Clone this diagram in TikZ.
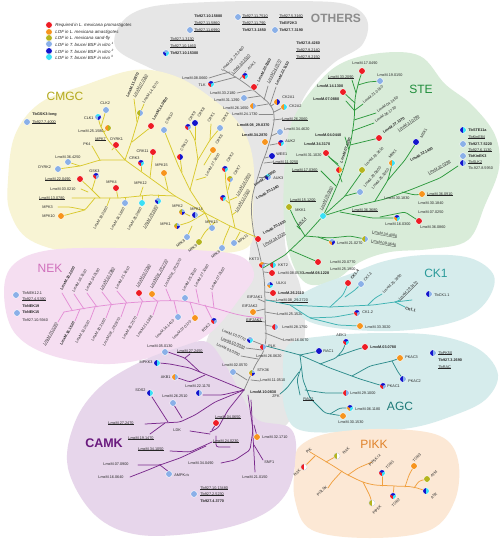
\documentclass[tikz,border=0pt]{standalone}
\usepackage{fontspec}
\setmainfont{Liberation Sans}
\definecolor{cR}{HTML}{EE1C25}
\definecolor{cO}{HTML}{F7941D}
\definecolor{cV}{HTML}{B5B51E}
\definecolor{cL}{HTML}{8AB0E8}
\definecolor{cD}{HTML}{1414CC}
\definecolor{cC}{HTML}{3AE0F5}
\definecolor{cW}{HTML}{FFFFFF}
\definecolor{bgGray}{HTML}{E6E6E6}
\definecolor{bgYel}{HTML}{F8F4D4}
\definecolor{bgPink}{HTML}{F5DEF1}
\definecolor{bgGreen}{HTML}{D9ECD9}
\definecolor{bgTeal}{HTML}{D6ECEC}
\definecolor{bgPurp}{HTML}{E7D6EB}
\definecolor{bgPeach}{HTML}{FCE8D5}
\definecolor{lnGray}{HTML}{8A8A8A}
\definecolor{lnYel}{HTML}{D9C92E}
\definecolor{lnPink}{HTML}{E48FD6}
\definecolor{lnGreen}{HTML}{2E9A3E}
\definecolor{lnTeal}{HTML}{3FB3B3}
\definecolor{lnAgc}{HTML}{2E8C8C}
\definecolor{lnPurp}{HTML}{7A2A8C}
\definecolor{lnPeach}{HTML}{F0A040}
\definecolor{tGray}{HTML}{8C8C8C}
\definecolor{tYel}{HTML}{B3A91C}
\definecolor{tPink}{HTML}{D070BC}
\definecolor{tGreen}{HTML}{1E8C3A}
\definecolor{tTeal}{HTML}{2A9A9A}
\definecolor{tAgc}{HTML}{1E7A78}
\definecolor{tPurp}{HTML}{6A1A7E}
\definecolor{tPeach}{HTML}{E0822A}
\tikzset{
  lab/.style={font=\fontsize{3.8}{4.2}\selectfont, inner sep=0.2pt, anchor=west, text=black!85},
  leg/.style={font=\fontsize{4.4}{5}\selectfont\itshape, inner sep=0.2pt, anchor=west, text=black!85},
  ttl/.style={font=\fontsize{12}{12}\selectfont, inner sep=0pt},
  br/.style={line width=0.75pt, rounded corners=2.5pt, line cap=round, line join=round},
  gry/.style={br, draw=lnGray},
  yel/.style={br, draw=lnYel},
  pnk/.style={br, draw=lnPink},
  grn/.style={br, draw=lnGreen},
  tea/.style={br, draw=lnTeal},
  agc/.style={br, draw=lnAgc},
  pur/.style={br, draw=lnPurp},
  pea/.style={br, draw=lnPeach},
}
\newcounter{lbc}
\newcommand\T[3][]{\stepcounter{lbc}\edef\lbname{L\the\value{lbc}}\node[lab,#1] (\lbname) at (#2) {#3};}
\newcommand\bfx[1]{\textbf{#1}}
\newcommand\uln[1]{\setbox0\hbox{#1}\rlap{\rule[-0.45pt]{\wd0}{0.18pt}}\box0}
\newcommand\kpie[2]{%
  \foreach \kc [count=\ki] in {#2}{\xdef\pien{\ki}}%
  \foreach \kc [count=\ki] in {#2}{%
    \pgfmathsetmacro\kpa{90+360*(\ki-1)/\pien}%
    \pgfmathsetmacro\kpb{90+360*\ki/\pien}%
    \fill[\kc] (#1) -- ++(\kpa:3.2) arc[start angle=\kpa, end angle=\kpb, radius=3.2] -- cycle;}%
  \draw[white, line width=0.35pt] (#1) circle[radius=3.35];}
\begin{document}
\begin{tikzpicture}[x=1pt,y=-1pt]
\useasboundingbox (0,0) rectangle (500,542);
\fill[white] (0,0) rectangle (500,542);
% ---------- blobs
\fill[bgGray] plot[smooth cycle, tension=0.6] coordinates {(116,48) (122,22) (150,7) (210,2) (290,1) (345,4) (367,20) (362,45) (335,62) (312,85) (298,110) (290,140) (285,200) (286,250) (300,285) (305,330) (298,380) (290,420) (262,440) (240,430) (222,395) (205,350) (225,305) (248,265) (250,200) (248,150) (225,110) (190,85) (150,68)};
\fill[bgYel] plot[smooth cycle, tension=0.6] coordinates {(8,180) (15,135) (40,103) (85,85) (135,70) (175,76) (210,97) (240,125) (253,160) (253,210) (250,245) (215,254) (150,256) (80,254) (30,240) (10,212)};
\fill[bgPink] plot[smooth cycle, tension=0.6] coordinates {(4,292) (14,264) (50,250) (120,248) (195,250) (240,256) (254,275) (240,298) (210,333) (170,352) (110,364) (50,355) (14,332)};
\fill[bgGreen] plot[smooth cycle, tension=0.6] coordinates {(292,122) (312,90) (340,64) (380,53) (420,56) (445,84) (472,105) (495,135) (499,168) (485,205) (468,240) (430,249) (390,252) (360,262) (335,280) (308,284) (292,262) (284,220) (285,160)};
\fill[bgTeal] plot[smooth cycle, tension=0.6] coordinates {(292,303) (315,287) (350,274) (385,261) (425,255) (470,258) (494,276) (486,302) (460,320) (410,330) (355,330) (310,322)};
\fill[bgTeal] plot[smooth cycle, tension=0.6] coordinates {(288,345) (325,336) (385,333) (440,336) (480,350) (498,375) (485,400) (452,416) (410,428) (350,432) (300,430) (285,410) (283,378)};
\fill[bgPurp] plot[smooth cycle, tension=0.6] coordinates {(68,468) (75,422) (100,387) (140,362) (180,347) (207,342) (226,366) (243,398) (258,420) (290,428) (296,455) (287,492) (260,516) (210,531) (140,535) (95,515)};
\fill[bgPeach] plot[smooth cycle, tension=0.6] coordinates {(300,446) (330,433) (390,429) (440,436) (458,460) (455,500) (430,530) (370,538) (312,530) (295,500) (295,465)};
% ---------- titles
\node[ttl, font=\fontsize{12}{12}\selectfont\bfseries, text=tGray] (tOth) at (336,18) {OTHERS};
\node[ttl, text=tYel] (tCmgc) at (65,96) {CMGC};
\node[ttl, text=tPink] (tNek) at (50,268) {NEK};
\node[ttl, text=tGreen] (tSte) at (421,89) {STE};
\node[ttl, text=tTeal] (tCk1) at (436,273) {CK1};
\node[ttl, text=tAgc] (tAgc) at (400,406) {AGC};
\node[ttl, font=\fontsize{12.5}{12.5}\selectfont\bfseries, text=tPurp] (tCamk) at (104,443) {CAMK};
\node[ttl, text=tPeach] (tPikk) at (374,444) {PIKK};
% ---------- legend
\kpie{49,25}{cR}\node[leg] (g1) at (55,25) {Required in L. mexicana promastigotes};
\kpie{49,32}{cO}\node[leg] (g2) at (55,32) {LOF in L. mexicana amastigotes};
\kpie{49,38}{cV}\node[leg] (g3) at (55,38) {LOF in L. mexicana sand-fly};
\kpie{49,44}{cL}\node[leg] (g4) at (55,44) {LOF in T. brucei BSF in vitro \textsuperscript{1}};
\kpie{49,51}{cD}\node[leg] (g5) at (55,51) {LOF in T. brucei BSF in vitro \textsuperscript{2}};
\kpie{49,57}{cC}\node[leg] (g6) at (55,57) {LOF in T. brucei BSF in vivo \textsuperscript{3}};
% ---------- OTHERS texts
\T{194,16}{\bfx{Tb927.10.15880}}
\kpie{238,17}{cL}\T{242,16}{\uln{Tb927.11.7510}}
\T{279,16}{\uln{Tb927.5.3160}}
\T{194,23}{\uln{Tb927.11.5860}}
\T{242,23}{\uln{Tb927.11.790}}
\T{279,23}{\bfx{TbEIF2K3}}
\kpie{190,30}{cL}\T{194,30}{\uln{Tb927.11.6990}}
\T{242,30}{\bfx{Tb927.3.1850}}
\kpie{275,30}{cL}\T{279,30}{\bfx{Tb927.7.3190}}
\T{170,39}{\uln{Tb927.1.3130}}
\T{170,46}{\uln{Tb927.10.1460}}
\kpie{166,53}{cD,cL,cC}\T{170,53}{\bfx{Tb927.10.15300}}
\T{296,43}{\bfx{Tb927.8.4260}}
\T{296,50}{\uln{Tb927.9.2140}}
\T{296,57}{\uln{Tb927.9.2150}}
% ---------- gray trunk
\draw[gry] plot[smooth, tension=0.6] coordinates {(224,70) (243,82) (257,93) (270,105) (274,116) (272,132) (267,150) (260,170) (252,200) (253,228) (259,252) (264,278) (265,310) (265,345) (254,368) (244,390)};
\draw[gry] (209,78) -- (222,74) -- (230,72);
\draw[gry] (213,83) -- (236,77);
\draw[gry] (240,79) -- (246,71);
\draw[gry] (253,91) -- (258,84);
\draw[gry] (264,100) -- (268,86);
\draw[gry] (270,105) -- (276,87);
\draw[gry] (237,93) -- (252,90);
\draw[gry] (247,98) -- (260,96);
\draw[gry] (256,106) -- (268,104);
\draw[gry] (259,114) -- (273,114);
\draw[gry] (271,106) -- (277,102);
\draw[gry] (274,112) -- (284,107);
\draw[gry] (273,120) -- (282,119);
\T[rotate=47]{222,71}{LmxM.08\_29.2480}
\T[rotate=47]{232,74}{\uln{LmxM.30.3530}}
\kpie{245,76}{cR,cD,cC}\T[rotate=47]{248,70}{AUK1}
\kpie{254,87}{cR}\T[rotate=62]{258,82}{\bfx{LmxM.20.0060}}
\T[rotate=62]{268,83}{\uln{LmxM.24.0570}}
\T[rotate=62]{276,85}{\bfx{LmxM.22.1150}}
\T[anchor=east]{208,78}{LmxM.08.0660}
\kpie{211,84}{cR,cD,cC}\T[anchor=east]{206,85}{TLK}
\T[anchor=east]{236,93}{LmxM.33.2180}
\kpie{244,98}{cL}\T[anchor=east]{240,100}{LmxM.31.1290}
\kpie{253,106}{cO,cL}\T[anchor=east]{249,108}{LmxM.26.1650}
\T[anchor=east]{258,114}{LmxM.24.1730}
\kpie{277,102}{cO,cD}\T{282,97}{CK2A1}
\kpie{284,107}{cO,cC}\T{289,106}{CK2A2}
\T{282,119}{\uln{LmxM.26.2060}}
% center gray
\T[anchor=east]{270,125}{\bfx{LmxM.08\_29.0370}}
\draw[gry] (271,136) -- (280,132);\kpie{280,132}{cL}\T{284,129}{LmxM.34.4620}
\T[anchor=east]{268,135}{\bfx{LmxM.34.2870}}\kpie{265,142}{cO}
\draw[gry] (270,145) -- (281,143);\kpie{281,143}{cR,cD,cC}\T{285,141}{AUK2}
\draw[gry] (265,158) -- (272,156);\kpie{272,156}{cD}\T{276,154}{WEE1}
\draw[gry] (264,163) -- (273,162);\T{273,162}{\uln{LmxM.11.0250}}
\draw[gry] (259,177) -- (268,177);\kpie{268,177}{cD,cC,cL}\T{273,178}{AUK3}
\T[rotate=35]{254,186}{\bfx{LmxM.19.0050}}
\T[rotate=30]{256,199}{\bfx{LmxM.20.1340}}
\kpie{258,239}{cR}\T[rotate=30]{263,234}{\bfx{LmxM.20.1530}}
\T[rotate=30]{263,246}{\uln{LmxM.34.2320}}
\T{249,259}{KKT3}\kpie{262,265}{cR,cO,cL}
\draw[gry] (263,263) -- (273,265);\kpie{273,265}{cR,cC}\T{278,265}{KKT2}
\draw[gry] (264,272) -- (272,273);\kpie{272,273}{cR}\T{278,273}{LmxM.08.0530}
\kpie{270,285}{cO,cL,cD,cC}\T{276,283}{ULK4}
\draw[gry] (265,292) -- (273,293);\kpie{273,293}{cR}\T{278,293}{\bfx{LmxM.26.2110}}
\draw[gry] (265,300) -- (276,301);\T{276,301}{\uln{LmxM.08\_29.2720}}
\draw[gry] (258,299) -- (265,302);\T[anchor=east]{263,297}{EIF2AK1}
\draw[gry] (256,311) -- (265,309);\T[anchor=east]{258,306}{EIF2AK2}\kpie{253,312}{cO}
\draw[gry] (265,312) -- (277,314);\T{277,314}{LmxM.25.1520}
\draw[gry] (258,321) -- (265,322);\T[anchor=east]{262,320}{\uln{EIF2AK3}}
\draw[gry] (265,325) -- (275,327);\kpie{275,327}{cR,cL}\T{282,327}{LmxM.28.1750}
\draw[gry] (265,333) -- (283,340);\T{283,340}{LmxM.16.0670}
\kpie{263,347}{cR,cL}\T{268,346}{PLK}
\draw[gry] (253,341) -- (263,345);\kpie{250,340}{cD,cL,cC}\T[anchor=east, rotate=-22]{246,340}{LmxM.10.0770}
\draw[gry] (246,348) -- (262,350);\T[anchor=east, rotate=-22]{245,348}{\uln{LmxM.10.0030}}
\draw[gry] (241,356) -- (258,359);\T[anchor=east, rotate=-25]{240,355}{LmxM.03.0350}
\T{256,356}{LmxM.26.0620}
\T{222,365}{LmxM.02.0570}\kpie{233,372}{cL}\draw[gry] (236,373) -- (247,380);
\kpie{252,373}{cO,cV,cL,cD}\T{257,370}{STK36}
\draw[gry] (251,380) -- (260,381);\T{260,380}{LmxM.11.0510}
\T{250,392}{\bfx{LmxM.10.0830}}
% ---------- CMGC
\T{32,115}{\bfx{TbGSK3-long}}
\kpie{27,122}{cL}\T{32,122}{\uln{Tb927.7.4000}}
\draw[yel] (256,237) -- (230,226) -- (205,213) -- (175,196);
\draw[yel] (175,196) -- (150,178) -- (125,160) -- (108,140) -- (100,125) -- (98,117);
\draw[yel] (104,132) -- (108,128);
\draw[yel] (101,127) -- (106,110);
\draw[yel] (125,160) -- (132,140) -- (140,113);
\draw[yel] (137,122) -- (134,99);
\draw[yel] (138,118) -- (144,104);
\draw[yel] (132,142) -- (151,127);
\draw[yel] (125,160) -- (100,160) -- (80,166) -- (58,169);
\draw[yel] (80,166) -- (68,162);
\draw[yel] (100,160) -- (92,146);
\draw[yel] (112,150) -- (116,145);
\draw[yel] (141,171) -- (141,163);
\draw[yel] (150,178) -- (153,152);
\draw[yel] (168,190) -- (164,173);
\draw[yel] (175,196) -- (150,195) -- (120,198) -- (72,198);
\draw[yel] (118,198) -- (116,188);
\draw[yel] (140,196) -- (143,187);
\draw[yel] (100,198) -- (90,188) -- (80,179);
\draw[yel] (92,190) -- (96,177);
\draw[yel] (81,189) -- (88,192);
\draw[yel] (95,198) -- (85,210) -- (62,216);
\draw[yel] (85,210) -- (70,207) -- (58,207);
\draw[yel] (125,198) -- (125,203);
\draw[yel] (142,196) -- (142,203);
\draw[yel] (158,195) -- (158,201);
\draw[yel] (110,198) -- (107,206);
\draw[yel] (205,213) -- (190,190) -- (178,165) -- (170,145) -- (164,130);
\draw[yel] (182,172) -- (180,157);
\draw[yel] (190,190) -- (198,160) -- (195,140) -- (188,127);
\draw[yel] (195,140) -- (195,123);
\draw[yel] (198,160) -- (210,140) -- (220,128);
\draw[yel] (210,140) -- (211,124);
\draw[yel] (204,165) -- (213,150);
\draw[yel] (196,180) -- (206,177);
\draw[yel] (235,228) -- (230,205) -- (226,185) -- (225,169);
\draw[yel] (228,190) -- (231,179);
\draw[yel] (229,203) -- (223,198);
\draw[yel] (232,215) -- (236,212);
\draw[yel] (230,200) -- (237,197);
\draw[yel] (205,213) -- (190,222) -- (177,226);
\draw[yel] (193,218) -- (195,215);
\draw[yel] (190,216) -- (182,212);
\draw[yel] (205,213) -- (212,228);
\draw[yel] (192,226) -- (187,237);
\draw[yel] (215,222) -- (205,232) -- (199,242);
\draw[yel] (230,226) -- (224,240) -- (222,248);
\draw[yel] (240,232) -- (234,243);
\T{100,103}{CLK2}\kpie{106,110}{cL}
\T[anchor=east]{94,118}{CLK1}\kpie{98,117}{cL,cC,cD}
\T[anchor=east]{104,131}{LmxM.25.1580}\kpie{108,128}{cO,cV}
\kpie{140,113}{cV,cL}
\T[rotate=65]{127,97}{\bfx{LmxM.11.0870}}
\T[rotate=60]{134,97}{\uln{LmxM.07.0250}}
\T[rotate=55]{143,103}{LmxM.14.1070}
\T[rotate=58]{153,120}{\bfx{LmxM.14.0830}}
\kpie{151,126}{cR}
\kpie{164,130}{cL}\T[rotate=60]{166,124}{CRK10}
\T{83,144}{PK4}
\T{95,139}{\uln{MPK7}}
\T{110,139}{DYRK1}\kpie{116,145}{cR}
\T[anchor=east]{149,151}{CRK11}\kpie{153,152}{cR}
\T{129,158}{CRK3}\kpie{141,163}{cR,cD,cC}
\T{55,157}{LmxM.36.4250}\kpie{68,162}{cL}
\T{38,167}{DYRK2}\kpie{58,169}{cL}
\T{89,171}{GSK3}\kpie{96,176}{cR,cD,cL}
\T{45,179}{\uln{LmxM.22.0490}}\kpie{80,179}{cR}
\T{50,189}{LmxM.03.0210}
\T{106,182}{MPK4}\kpie{116,188}{cR}
\T{134,183}{MPK12}
\T{39,198}{\uln{LmxM.13.0780}}
\T{42,207}{MPK3}
\T{42,216}{MPK10}\kpie{61,216}{cO}
\T{155,165}{MPK15}\kpie{164,173}{cO}
\kpie{125,203}{cL}\kpie{142,203}{cC}\kpie{158,201}{cD,cL,cC}
\T[anchor=east, rotate=60]{107,207}{LmxM.19.0360}
\T[anchor=east, rotate=60]{124,208}{LmxM.34.1860}
\T[anchor=east, rotate=60]{141,208}{LmxM.25.0960}
\T[anchor=east, rotate=60]{157,206}{\uln{LmxM.29.3580}}
\kpie{180,157}{cR,cD}\T[rotate=60]{181,151}{CRK12}
\kpie{188,127}{cR,cD,cL}\T[rotate=55]{189,121}{CRK9}
\kpie{195,123}{cD}\T[rotate=55]{198,117}{CRK8}
\T[rotate=55]{208,122}{CRK1}
\kpie{220,128}{cL}\T[rotate=55]{222,122}{CRK4}
\kpie{213,150}{cO}\T[rotate=55]{216,144}{CRK6}
\T[rotate=60]{206,176}{LmxM.27.1800}
\kpie{225,169}{cR,cD,cC}\T[rotate=55]{227,162}{CRK2}
\kpie{230,179}{cO,cV,cL}\T[rotate=55]{234,175}{CRK7}
\T[rotate=60]{237,196}{\uln{LmxM.24.0670}}
\kpie{223,198}{cR,cD,cC}
\T[rotate=60]{236,212}{\uln{LmxM.12.0130}}
\T{172,206}{MPK2}\kpie{182,212}{cO,cV,cL,cD}
\T{190,209}{MPK14}\kpie{195,215}{cD,cL}
\T{160,224}{MPK1}\kpie{177,226}{cO,cV,cL,cD}
\T{205,222}{MPK13}\kpie{212,228}{cL}
\kpie{187,237}{cL}\T[anchor=east, rotate=40]{185,240}{MPK8}
\kpie{199,242}{cV}\T[anchor=east, rotate=40]{197,245}{MPK9}
\kpie{222,248}{cL}\T[anchor=east, rotate=40]{220,251}{MPK6}
\kpie{234,243}{cL}\T[rotate=40]{238,243}{MPK11}
% ---------- NEK
\kpie{16,295}{cL}\T{22,293}{TbNEK12.1}
\T{22,299}{\uln{Tb927.4.5390}}
\T{22,306}{\bfx{TbNEK19}}
\kpie{17,313}{cL}\T{22,312}{\bfx{TbNEK15}}
\T{22,320}{Tb927.10.5940}
\draw[pnk] plot[smooth, tension=0.6] coordinates {(263,318) (240,315) (210,307) (180,301) (140,302) (100,306) (64,312)};
\draw[pnk] (72,310) -- (62,293);
\draw[pnk] (84,309) -- (74,294);
\draw[pnk] (97,307) -- (87,293);
\draw[pnk] (112,305) -- (102,292);
\draw[pnk] (127,303) -- (117,291);
\draw[pnk] (143,302) -- (139,296);
\draw[pnk] (157,301) -- (152,297);
\draw[pnk] (171,301) -- (166,289);
\draw[pnk] (185,301) -- (185,298);
\draw[pnk] (199,303) -- (196,289);
\draw[pnk] (214,308) -- (212,292);
\T[rotate=60]{61,290}{\bfx{LmxM.30.2200}}
\T[rotate=60]{73,292}{LmxM.36.1530}
\T[rotate=60]{86,291}{LmxM.34.0190}
\T[rotate=60]{101,290}{\uln{LmxM.32.2980}}
\T[rotate=60]{116,289}{LmxM.21.1610}
\kpie{139,293}{cR}\T[rotate=60]{137,287}{\uln{LmxM.02.0290}}
\kpie{152,294}{cO}\T[rotate=60]{151,288}{\uln{LmxM.08\_29.2730}}
\T[rotate=60]{165,287}{LmxM.08\_29.2570}
\kpie{185,298}{cL}\T[rotate=60]{183,291}{LmxM.25.3030}
\T[rotate=60]{195,287}{LmxM.27.1080}
\T[rotate=60]{211,290}{LmxM.07.0160}
\draw[pnk] (64,312) -- (58,322);
\draw[pnk] (80,309) -- (75,321);
\draw[pnk] (95,307) -- (90,320);
\draw[pnk] (111,305) -- (106,318);
\draw[pnk] (126,303) -- (121,317);
\draw[pnk] (142,302) -- (137,316);
\draw[pnk] (158,301) -- (153,315);
\draw[pnk] (174,301) -- (178,317);
\draw[pnk] (190,302) -- (195,318);
\draw[pnk] (205,305) -- (213,321);
\T[anchor=east, rotate=60]{57,323}{\uln{LmxM.01.0280}}
\T[anchor=east, rotate=60]{74,322}{\bfx{LmxM.16.1520}}
\T[anchor=east, rotate=60]{89,321}{LmxM.13.0530}
\T[anchor=east, rotate=60]{105,319}{LmxM.30.3160}
\T[anchor=east, rotate=60]{120,318}{LmxM.08\_29.2870}
\T[anchor=east, rotate=60]{136,317}{LmxM.26.2570}
\T[anchor=east, rotate=55]{152,316}{LmxM.21.1368}
\kpie{178,317}{cL}\T[anchor=east, rotate=45]{174,320}{LmxM.14.1410}
\kpie{195,318}{cO}\T[anchor=east, rotate=45]{191,321}{LmxM.07.0170}
\kpie{214,321}{cR,cD,cL}\T[anchor=east, rotate=45]{210,324}{RDK2}
% ---------- STE
\draw[grn] (263,268) -- (285,255) -- (305,236) -- (323,216);
\draw[grn] plot[smooth, tension=0.6] coordinates {(323,216) (333,195) (343,170) (350,145) (354,120) (355,100) (358,85) (362,72)};
\draw[grn] (358,85) -- (368,82) -- (380,81);
\draw[grn] (356,93) -- (352,80);
\draw[grn] (355,103) -- (343,92);
\draw[grn] (354,110) -- (346,101);
\draw[grn] (355,110) -- (363,104);
\draw[grn] (354,120) -- (376,113);
\draw[grn] (352,131) -- (374,123);
\draw[grn] (350,145) -- (379,138);
\draw[grn] (343,170) -- (330,158) -- (326,153);
\draw[grn] (345,137) -- (349,150);
\draw[grn] (329,157) -- (338,164);
\draw[grn] (321,171) -- (336,186);
\draw[grn] (339,174) -- (342,182);
\draw[grn] (323,216) -- (345,196) -- (362,172);
\draw[grn] (345,196) -- (360,192);
\draw[grn] (323,216) -- (355,206) -- (385,199) -- (410,190) -- (440,178) -- (458,166);
\draw[grn] (375,201) -- (388,180) -- (392,164);
\draw[grn] (388,180) -- (405,160) -- (416,143);
\draw[grn] (402,192) -- (415,195) -- (422,194);
\draw[grn] (340,212) -- (372,218) -- (397,218);
\draw[grn] (380,217) -- (405,212) -- (419,221);
\draw[grn] (305,236) -- (330,238) -- (350,236) -- (365,239);
\draw[grn] (318,237) -- (332,242);
\draw[grn] (305,236) -- (295,220) -- (289,207);
\draw[grn] (300,229) -- (297,226);
\draw[grn] (290,250) -- (318,262);
\kpie{362,71}{cR}\T{352,63}{LmxM.17.0490}
\T{328,77}{\uln{LmxM.33.2090}}
\kpie{380,81}{cL}\T{377,75}{LmxM.19.0150}
\kpie{343,92}{cR}\T{317,86}{\bfx{LmxM.14.1300}}
\T{313,99}{\bfx{LmxM.07.0880}}
\T[rotate=40]{363,103}{LmxM.21.0150}
\T[rotate=35]{377,112}{LmxM.04.1450}
\T[rotate=35]{375,122}{LmxM.36.1730}
\kpie{379,138}{cR}\T[rotate=35]{383,133}{\bfx{LmxM.27.1370}}
\T[rotate=35]{398,131}{\uln{LmxM.31.0290}}
\kpie{416,142}{cD}\T[rotate=60]{421,138}{MEK1}
\T{315,135}{\bfx{LmxM.04.0440}}
\kpie{326,153}{cR}\T{304,144}{\bfx{LmxM.34.3170}}
\T{296,155}{LmxM.31.1020}
\T{292,170}{\uln{LmxM.17.0360}}
\kpie{339,170}{cR,cO}\T[rotate=70]{341,163}{\bfx{LmxM.07.0290}}
\kpie{362,170}{cV}\T[rotate=45]{365,166}{LmxM.19.1610}
\kpie{360,192}{cL}\T[rotate=50]{364,187}{LmxM.29.0800}
\T[rotate=50]{372,189}{LmxM.25.3050}
\kpie{392,163}{cO,cC}\T[rotate=50]{389,158}{MRK1}
\T[rotate=30]{410,161}{\bfx{LmxM.32.1400}}
\T[rotate=30]{428,174}{\uln{LmxM.32.0290}}
\T{384,198}{LmxM.30.1830}
\kpie{422,194}{cO}\T{427,194}{\uln{LmxM.36.0910}}
\T{418,203}{LmxM.30.1840}
\T{352,210}{\uln{LmxM.36.3680}}
\T{418,212}{LmxM.07.0250}
\kpie{397,218}{cO,cD,cC}\T{385,224}{LmxM.16.0300}
\kpie{419,221}{cR}\T{420,227}{LmxM.36.0860}
\kpie{323,216}{cC}\T[rotate=65]{321,210}{\uln{LmxM.05.0350}}
\T[rotate=-10]{372,232}{\uln{LmxM.34.4000}}
\kpie{365,239}{cV,cL}\T[rotate=-10]{371,241}{\uln{LmxM.09.0640}}
\kpie{332,242}{cO,cL,cD}\T{337,243}{LmxM.21.0270}
\T{330,262}{LmxM.20.0770}
\T{330,269}{LmxM.25.1900}
\kpie{318,262}{cR}\T{303,273}{\bfx{LmxM.08.1228}}
\T{290,200}{\uln{LmxM.15.1200}}
\kpie{289,207}{cV}\T{295,210}{MKK1}
\T[rotate=45]{298,226}{\uln{MKK4}}
\kpie{463,130}{cD,cC}\T{468,130}{\bfx{TbSTE11a}}
\T{468,137}{\uln{TbKinE84}}
\kpie{463,144}{cL}\T{468,144}{\bfx{Tb927.7.5220}}
\T{468,150}{\uln{Tb927.6.1130}}
\kpie{463,156}{cL}\T{468,156}{\bfx{TbKinEK3}}
\kpie{463,163}{cD,cL}\T{468,162}{\uln{TbSLK2}}
\T{468,168}{Tb.927.8.5950}
% ---------- CK1
\draw[tea] (266,300) -- (290,305) -- (330,307) -- (373,305) -- (395,302) -- (412,300);
\draw[tea] (330,307) -- (343,295) -- (348,284);
\draw[tea] (345,297) -- (355,290) -- (361,284);
\draw[tea] (368,305) -- (375,298) -- (382,294);
\draw[tea] (395,302) -- (400,300);
\draw[tea] (395,302) -- (405,307);
\draw[tea] (290,305) -- (310,318) -- (335,317) -- (357,313);
\draw[tea] (310,318) -- (338,325) -- (360,326);
\kpie{348,283}{cR}\T[rotate=50]{351,279}{\bfx{CK1.4}}
\kpie{361,284}{cL}\T[rotate=50]{364,281}{CK1.3}
\T[rotate=45]{383,293}{LmxM.25.1990}
\T[rotate=45]{399,300}{\uln{LmxM.29.3470}}
\kpie{429,294}{cD,cL}\T{434,295}{TbCK1.1}
\T[rotate=-15]{405,308}{\bfx{CK1.1}}
\kpie{357,313}{cR,cD,cL}\T{362,312}{CK1.2}
\kpie{360,326}{cO}\T{365,327}{LmxM.33.3020}
% ---------- AGC
\draw[agc] (266,346) -- (300,355);
\draw[agc] (300,355) -- (319,351);
\draw[agc] (300,355) -- (330,368) -- (360,379) -- (383,386);
\draw[agc] (320,364) -- (336,358) -- (343,350) -- (346,342);
\draw[agc] (338,356) -- (355,350) -- (365,347);
\draw[agc] (352,376) -- (370,366) -- (392,361) -- (400,358);
\draw[agc] (392,361) -- (398,372) -- (403,379);
\draw[agc] (300,355) -- (303,380) -- (310,398) -- (325,413) -- (343,416);
\draw[agc] (305,390) -- (325,393) -- (346,393);
\draw[agc] (330,414) -- (340,408) -- (350,408);
\draw[agc] (301,368) -- (297,380) -- (300,395);
\draw[agc] (299,372) -- (287,388) -- (280,394);
\kpie{346,342}{cR,cD,cC}\T{336,335}{AEK1}
\kpie{365,347}{cR}\T{370,347}{\bfx{LmxM.03.0780}}
\kpie{319,351}{cD}\T{323,351}{RAC1}
\kpie{400,358}{cO}\T{405,357}{PKAC3}
\kpie{403,379}{cD,cL}\T{408,381}{PKAC2}
\kpie{383,386}{cR,cD,cL}\T{387,386}{PKAC1}
\kpie{346,393}{cR,cL}\T{350,393}{LmxM.29.1000}
\kpie{350,408}{cO,cD,cC}\T{355,409}{LmxM.06.1180}
\kpie{343,416}{cO}\T{338,422}{LmxM.30.1530}
\kpie{433,353}{cD,cL}\T{438,353}{\uln{TbPK50}}
\T{438,360}{\bfx{Tb927.3.2690}}
\T{438,367}{\uln{TbRAC}}
\T{303,399}{\uln{RAC2}}
\T{272,396}{ZFK}
% ---------- CAMK
\draw[pur] (244,390) -- (215,378) -- (190,368) -- (170,364) -- (160,363);
\draw[pur] (200,372) -- (185,358) -- (168,352);
\draw[pur] (185,358) -- (190,354);
\draw[pur] (205,375) -- (190,382) -- (178,378);
\draw[pur] (244,390) -- (222,395) -- (203,395);
\draw[pur] (244,390) -- (215,402) -- (195,415) -- (180,422) -- (145,424);
\draw[pur] (152,397) -- (168,422);
\draw[pur] (174,405) -- (182,418);
\draw[pur] (165,423) -- (150,434);
\draw[pur] (244,390) -- (228,410) -- (218,428) -- (210,432);
\draw[pur] (212,430) -- (216,424);
\draw[pur] (190,431) -- (210,434);
\draw[pur] (216,436) -- (216,447) -- (230,447);
\draw[pur] (212,442) -- (190,452) -- (170,451);
\draw[pur] (206,446) -- (180,458) -- (160,465) -- (138,465);
\draw[pur] (160,465) -- (148,470) -- (130,477);
\draw[pur] (160,465) -- (169,472);
\draw[pur] (248,395) -- (253,430) -- (250,450) -- (235,460) -- (221,463);
\draw[pur] (251,400) -- (255,472);
\draw[pur] (254,425) -- (257,436);
\draw[pur] (254,445) -- (263,460);
\T[anchor=east]{153,362}{MPKK3}\kpie{157,363}{cD,cC}
\T{147,346}{LmxM.05.0130}\kpie{165,352}{cL}
\T{177,351}{\uln{LmxM.27.2450}}
\T[anchor=east]{171,377}{AKB1}\kpie{175,377}{cO,cL}
\T[anchor=east]{146,390}{SOS2}\kpie{150,393}{cD,cC}
\T{185,386}{LmxM.22.1170}\kpie{199,393}{cD,cL}
\T{162,396}{LmxM.26.2510}\kpie{173,403}{cL}
\T{108,423}{\uln{LmxM.27.2470}}
\T{128,438}{\uln{LmxM.19.1470}}
\T{173,430}{LDK}
\T{215,417}{\uln{LmxM.04.0650}}\kpie{216,423}{cR}
\T{213,441}{\uln{LmxM.24.0230}}
\T{138,449}{\uln{LmxM.34.1050}}
\T{103,464}{LmxM.07.0900}
\T{188,463}{LmxM.34.0490}
\T{98,477}{LmxM.16.0640}
\kpie{169,474}{cL}\T{174,475}{AMPK$\alpha$}
\T{242,477}{LmxM.21.0150}
\kpie{257,437}{cO}\T{262,437}{LmxM.32.1710}
\T{264,462}{SNF1}
\kpie{194,494}{cL}\T{200,488}{\uln{Tb927.10.13480}}
\T{200,494}{\uln{Tb927.2.5230}}
\T{200,501}{\bfx{Tb927.4.3770}}
% ---------- PIKK
\draw[pea] plot[smooth, tension=0.6] coordinates {(310,452) (330,464) (350,476) (370,484) (395,486) (412,487) (426,491)};
\draw[pea] (315,456) -- (304,467);
\draw[pea] (326,462) -- (333,458) -- (337,456);
\draw[pea] (348,475) -- (358,468) -- (372,462);
\draw[pea] (342,471) -- (332,482) -- (328,488);
\draw[pea] (363,482) -- (370,496) -- (372,503);
\draw[pea] (382,486) -- (382,473);
\draw[pea] (394,486) -- (393,496);
\draw[pea] (405,487) -- (409,475) -- (414,466);
\draw[pea] (414,488) -- (419,481) -- (427,479);
\kpie{304,467}{cR,cW}\draw[gray!60, line width=0.2pt] (304,467) circle[radius=3.2];
\kpie{337,456}{cV,cW}\draw[gray!60, line width=0.2pt] (337,456) circle[radius=3.2];
\kpie{382,473}{cR,cD,cC}
\kpie{414,466}{cO}
\kpie{427,479}{cV}
\kpie{426,491}{cD,cC}
\kpie{393,496}{cR,cD,cC}
\kpie{372,503}{cV,cW}\draw[gray!60, line width=0.2pt] (372,503) circle[radius=3.2];
\T[anchor=center, rotate=40]{309,451}{PIK}
\T[anchor=center, rotate=45]{297,473}{PI3K}
\T[anchor=center, rotate=45]{346,451}{PI4K}
\T[anchor=center, rotate=45]{375,460}{PIP5K$\alpha$}
\T[anchor=center, rotate=45]{390,465}{TOR1}
\T[anchor=center, rotate=45]{417,458}{TOR3}
\T[anchor=center, rotate=45]{434,474}{ATM}
\T[anchor=center, rotate=45]{434,496}{ATR}
\T[anchor=center, rotate=45]{396,503}{TOR2}
\T[anchor=center, rotate=45]{377,510}{PIP5K}
\T[anchor=center, rotate=45]{322,491}{PI3LSK}
\end{tikzpicture}
\end{document}
